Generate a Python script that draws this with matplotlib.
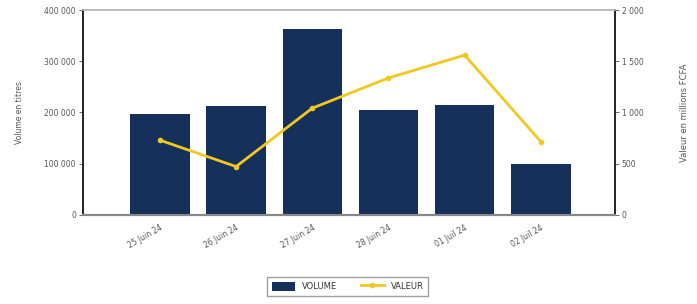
import matplotlib
matplotlib.use('Agg')
import matplotlib.pyplot as plt
import numpy as np

# dates de seance
dates = ['25 Juin 24', '26 Juin 24', '27 Juin 24', '28 Juin 24', '01 Juil 24', '02 Juil 24']
volume = [198000, 213000, 363000, 205000, 214000, 100000]
valeur = [730, 472, 1042, 1337, 1560, 715]

left_ticks = [0, 100000, 200000, 300000, 400000]
left_labels = ['0', '100 000', '200 000', '300 000', '400 000']
right_ticks = [0, 500, 1000, 1500, 2000]
right_labels = ['0', '500', '1 000', '1 500', '2 000']

navy = '#16305c'
gold = '#f2c81e'
txt = '#555555'

fig = plt.figure(figsize=(6.97, 3.04), dpi=100)
ax = fig.add_axes([0.119, 0.293, 0.763, 0.674])
x = np.arange(len(dates))

b = ax.bar(x, volume, width=0.78, color=navy, label='VOLUME', zorder=2)
ax.set_xlim(-1.01, 5.97)
ax.set_ylim(0, 400000)
ax.set_yticks(left_ticks)
ax.set_yticklabels(left_labels)
ax.set_xticks(x)
ax.set_xticklabels(dates, rotation=30, ha='right', rotation_mode='anchor')
ax.tick_params(axis='x', length=0, labelsize=5.5, colors=txt, pad=6)
ax.tick_params(axis='y', length=3, width=0.6, labelsize=5.5, colors=txt, pad=2)
ax.set_ylabel('Volume en titres', fontsize=5.5, color=txt, labelpad=15)

ax2 = ax.twinx()
l, = ax2.plot(x, valeur, color=gold, linewidth=2, marker='o', markersize=3, label='VALEUR', zorder=3)
ax2.set_ylim(0, 2000)
ax2.set_yticks(right_ticks)
ax2.set_yticklabels(right_labels)
ax2.tick_params(axis='y', length=3, width=0.6, labelsize=5.5, colors=txt, pad=2)
ax2.set_ylabel('Valeur en millions FCFA', fontsize=6, color=txt, rotation=90, labelpad=26)

for a in (ax, ax2):
    a.spines['left'].set_color('#222222')
    a.spines['right'].set_color('#222222')
    a.spines['left'].set_linewidth(1.2)
    a.spines['right'].set_linewidth(1.2)
    a.spines['top'].set_color('#bbbbbb')
    a.spines['bottom'].set_color('#888888')
    a.spines['top'].set_linewidth(1.2)
    a.spines['bottom'].set_linewidth(1.5)

leg = fig.legend(handles=[b, l], labels=['VOLUME', 'VALEUR'], loc='center',
                 bbox_to_anchor=(0.499, 0.058), ncol=2, fontsize=6,
                 frameon=True, fancybox=False, edgecolor='#888888',
                 handlelength=2.8, handleheight=1.3, columnspacing=2.8,
                 borderpad=0.6, handletextpad=0.8)
leg.get_frame().set_linewidth(1.0)
for t in leg.get_texts():
    t.set_color('#333333')

fig.savefig('out.png', dpi=100)
